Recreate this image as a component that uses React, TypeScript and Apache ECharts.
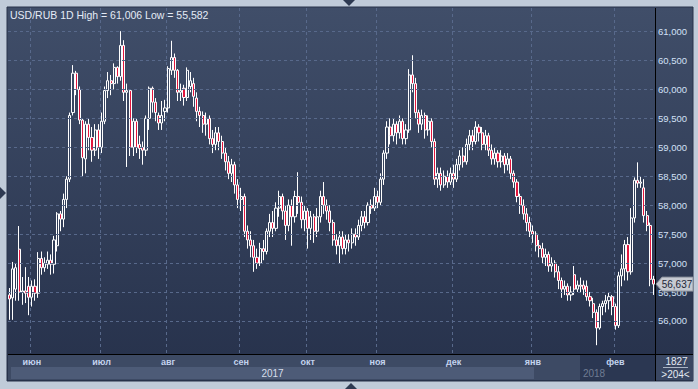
import React, { useEffect, useRef } from 'react';
import * as echarts from 'echarts';

const monthLabels = ['июн', 'июл', 'авг', 'сен', 'окт', 'ноя', 'дек', 'янв', 'фев'];
const monthStarts = [7, 29, 50, 73, 94, 116, 140, 165, 191];
const yearLabels = ['2017', '2018'];
const priceTicks = [56.0, 56.5, 57.0, 57.5, 58.0, 58.5, 59.0, 59.5, 60.0, 60.5, 61.0];
const totalBars = 1827;
const lastPrice = 56.637;
const highValue = 61.006;
const lowValue = 55.582;
const yMin = 55.43;
const yMax = 61.406;

// [open, close, low, high]
const candles: number[][] = [
  [56.45, 56.38, 56.02, 56.57],
  [56.40, 56.90, 56.02, 57.02],
  [56.55, 56.92, 56.35, 57.00],
  [57.24, 56.50, 56.35, 57.64],
  [56.50, 56.52, 56.28, 56.76],
  [56.52, 56.48, 56.31, 56.93],
  [56.60, 56.41, 56.10, 56.76],
  [56.41, 56.60, 56.25, 56.70],
  [56.60, 56.48, 56.35, 56.72],
  [56.48, 57.08, 56.40, 57.19],
  [57.08, 56.92, 56.80, 57.20],
  [56.92, 57.00, 56.85, 57.10],
  [56.98, 57.05, 56.90, 57.20],
  [57.05, 56.98, 56.80, 57.15],
  [56.98, 57.40, 56.82, 57.47],
  [57.30, 57.85, 57.20, 57.88],
  [57.85, 57.76, 57.55, 57.90],
  [57.76, 58.10, 57.62, 58.20],
  [58.10, 58.45, 57.95, 58.50],
  [58.45, 59.55, 58.40, 59.60],
  [59.60, 60.28, 59.55, 60.42],
  [60.28, 60.00, 59.90, 60.32],
  [60.00, 59.47, 59.40, 60.05],
  [59.47, 58.82, 58.50, 59.50],
  [58.80, 59.40, 58.55, 59.45],
  [59.40, 59.17, 58.95, 59.50],
  [59.17, 58.95, 58.75, 59.35],
  [58.95, 59.30, 58.85, 59.40],
  [59.30, 59.00, 58.80, 59.40],
  [59.00, 59.45, 58.90, 59.60],
  [59.45, 59.98, 59.40, 60.05],
  [59.98, 60.15, 59.85, 60.30],
  [60.15, 60.10, 59.90, 60.25],
  [60.10, 60.38, 60.00, 60.45],
  [60.38, 60.22, 60.10, 60.40],
  [60.22, 60.76, 60.15, 61.006],
  [60.76, 59.95, 59.80, 60.85],
  [59.95, 59.98, 58.66, 60.10],
  [59.98, 59.00, 58.85, 60.00],
  [59.00, 59.45, 58.85, 59.50],
  [59.45, 59.00, 58.90, 59.50],
  [59.05, 58.98, 58.80, 59.20],
  [59.00, 58.95, 58.70, 59.10],
  [58.95, 59.50, 58.85, 59.55],
  [59.50, 60.02, 59.30, 60.05],
  [60.02, 59.78, 59.60, 60.05],
  [59.78, 59.60, 59.45, 59.85],
  [59.55, 59.42, 59.30, 59.60],
  [59.42, 59.55, 59.30, 59.80],
  [59.62, 59.68, 59.45, 59.82],
  [59.68, 60.36, 59.60, 60.40],
  [60.33, 60.55, 60.25, 60.84],
  [60.55, 60.33, 60.20, 60.62],
  [60.33, 59.95, 59.80, 60.35],
  [59.95, 59.98, 59.80, 60.10],
  [60.02, 59.86, 59.72, 60.08],
  [59.86, 60.33, 59.80, 60.38],
  [60.05, 60.15, 59.95, 60.30],
  [60.10, 59.88, 59.70, 60.20],
  [59.85, 59.62, 59.45, 59.95],
  [59.62, 59.55, 59.35, 59.70],
  [59.55, 59.40, 59.25, 59.62],
  [59.40, 59.50, 59.20, 59.60],
  [59.50, 59.15, 59.05, 59.55],
  [59.15, 59.05, 58.90, 59.30],
  [59.05, 59.25, 58.95, 59.35],
  [59.25, 59.10, 58.95, 59.35],
  [59.10, 58.90, 58.80, 59.20],
  [58.90, 58.75, 58.60, 59.00],
  [58.75, 58.55, 58.45, 58.85],
  [58.55, 58.70, 58.40, 58.80],
  [58.70, 58.35, 58.20, 58.75],
  [58.35, 58.10, 57.95, 58.45],
  [58.10, 58.15, 57.90, 58.30],
  [58.15, 57.55, 57.45, 58.20],
  [57.55, 57.40, 57.25, 57.65],
  [57.40, 57.30, 57.10, 57.55],
  [57.30, 57.10, 56.85, 57.40],
  [57.10, 57.00, 56.90, 57.25],
  [57.00, 57.25, 56.95, 57.35],
  [57.25, 57.20, 57.05, 57.40],
  [57.20, 57.55, 57.15, 57.60],
  [57.55, 57.70, 57.45, 57.85],
  [57.70, 57.60, 57.45, 57.90],
  [57.60, 57.95, 57.55, 58.05],
  [57.95, 58.15, 57.80, 58.25],
  [58.15, 57.90, 57.75, 58.20],
  [57.90, 57.65, 57.40, 58.00],
  [57.65, 58.00, 57.55, 58.10],
  [58.00, 57.80, 57.30, 58.10],
  [57.80, 58.15, 57.70, 58.25],
  [58.15, 58.05, 57.85, 58.57],
  [58.05, 57.75, 57.60, 58.15],
  [57.75, 57.90, 57.55, 58.00],
  [57.90, 57.60, 57.25, 57.95],
  [57.60, 57.80, 57.40, 57.90],
  [57.80, 57.55, 57.35, 57.85],
  [57.55, 57.80, 57.45, 57.95],
  [57.80, 58.15, 57.70, 58.25],
  [58.15, 58.00, 57.85, 58.40],
  [58.00, 57.90, 57.75, 58.10],
  [57.90, 57.70, 57.55, 58.00],
  [57.70, 57.40, 57.30, 57.75],
  [57.40, 57.30, 57.15, 57.50],
  [57.30, 57.45, 57.00, 57.55],
  [57.45, 57.25, 57.15, 57.55],
  [57.25, 57.40, 57.15, 57.50],
  [57.40, 57.35, 57.20, 57.50],
  [57.35, 57.50, 57.25, 57.60],
  [57.50, 57.45, 57.30, 57.60],
  [57.45, 57.65, 57.40, 57.75],
  [57.65, 57.80, 57.55, 57.90],
  [57.80, 57.70, 57.60, 57.90],
  [57.70, 58.00, 57.65, 58.05],
  [58.00, 57.95, 57.85, 58.10],
  [57.95, 58.15, 57.90, 58.30],
  [58.15, 58.05, 57.95, 58.25],
  [58.05, 58.45, 58.00, 58.55],
  [58.45, 58.90, 58.35, 58.95],
  [58.90, 59.35, 58.80, 59.45],
  [59.35, 59.20, 59.05, 59.50],
  [59.20, 59.40, 59.10, 59.50],
  [59.40, 59.25, 59.05, 59.45],
  [59.25, 59.45, 59.15, 59.55],
  [59.45, 59.15, 59.05, 59.50],
  [59.15, 59.30, 59.05, 59.40],
  [59.30, 60.25, 59.25, 60.35],
  [60.25, 60.10, 59.95, 60.59],
  [60.10, 59.60, 59.50, 60.20],
  [59.60, 59.40, 59.25, 59.65],
  [59.40, 59.55, 59.30, 59.65],
  [59.55, 59.30, 59.15, 59.60],
  [59.30, 59.45, 59.20, 59.55],
  [59.45, 59.10, 59.00, 59.50],
  [59.10, 58.45, 58.35, 59.15],
  [58.45, 58.55, 58.30, 58.65],
  [58.55, 58.35, 58.25, 58.65],
  [58.35, 58.50, 58.30, 58.60],
  [58.50, 58.40, 58.30, 58.60],
  [58.40, 58.55, 58.35, 58.65],
  [58.55, 58.45, 58.30, 58.70],
  [58.45, 58.70, 58.40, 58.80],
  [58.70, 58.85, 58.60, 58.95],
  [58.85, 58.75, 58.65, 59.00],
  [58.75, 59.05, 58.70, 59.15],
  [59.05, 59.20, 58.95, 59.30],
  [59.20, 59.10, 58.95, 59.30],
  [59.10, 59.35, 59.05, 59.45],
  [59.35, 59.25, 59.10, 59.40],
  [59.25, 59.05, 58.95, 59.35],
  [59.05, 59.20, 58.95, 59.30],
  [59.20, 58.95, 58.85, 59.25],
  [58.95, 58.80, 58.70, 59.05],
  [58.80, 58.90, 58.70, 59.00],
  [58.90, 58.75, 58.65, 58.95],
  [58.75, 58.85, 58.65, 58.95],
  [58.85, 58.70, 58.55, 58.90],
  [58.70, 58.80, 58.60, 58.90],
  [58.80, 58.55, 58.45, 58.85],
  [58.55, 58.40, 58.30, 58.60],
  [58.40, 58.15, 58.05, 58.45],
  [58.15, 58.00, 57.85, 58.20],
  [58.00, 57.85, 57.75, 58.10],
  [57.85, 57.70, 57.55, 57.95],
  [57.70, 57.55, 57.45, 57.80],
  [57.55, 57.50, 57.35, 57.65],
  [57.50, 57.30, 57.20, 57.55],
  [57.30, 57.25, 57.10, 57.40],
  [57.25, 57.10, 57.00, 57.35],
  [57.10, 57.15, 56.95, 57.25],
  [57.15, 56.95, 56.85, 57.20],
  [56.95, 57.00, 56.85, 57.10],
  [57.00, 56.85, 56.75, 57.05],
  [56.85, 56.70, 56.55, 56.95],
  [56.70, 56.55, 56.40, 56.75],
  [56.55, 56.60, 56.45, 56.70],
  [56.60, 56.45, 56.35, 56.65],
  [56.45, 56.50, 56.35, 56.60],
  [56.80, 56.55, 56.45, 56.95],
  [56.55, 56.62, 56.50, 56.70],
  [56.62, 56.60, 56.50, 56.75],
  [56.62, 56.55, 56.45, 56.70],
  [56.60, 56.42, 56.35, 56.70],
  [56.42, 56.35, 56.25, 56.50],
  [56.30, 56.15, 56.05, 56.40],
  [56.15, 55.88, 55.582, 56.20],
  [55.88, 56.25, 55.85, 56.30],
  [56.25, 56.30, 56.10, 56.35],
  [56.30, 56.35, 56.15, 56.45],
  [56.35, 56.42, 56.20, 56.50],
  [56.42, 56.25, 56.10, 56.45],
  [56.25, 55.92, 55.85, 56.30],
  [55.92, 56.78, 55.88, 56.85],
  [56.78, 56.90, 56.60, 57.15],
  [56.90, 57.32, 56.70, 57.40],
  [57.32, 56.85, 56.70, 57.45],
  [56.85, 57.78, 56.80, 57.95],
  [57.78, 58.43, 57.70, 58.48],
  [58.43, 58.38, 58.30, 58.74],
  [58.38, 58.40, 58.30, 58.50],
  [58.30, 57.82, 57.70, 58.45],
  [57.82, 57.65, 57.55, 57.90],
  [57.65, 56.72, 56.60, 57.70],
  [56.72, 56.637, 56.45, 56.78],
];

const fmt = (v: number) => v.toFixed(3).replace('.', ',');
const FONT = '"Liberation Sans", Arial, sans-serif';
const GRID_COLOR = '#58698b';

function txt(id: string, text: string, x: number, y: number, fill: string, size: number, align = 'left', weight = 'normal') {
  return {
    type: 'text', id, z: 60, silent: true,
    style: {
      text, x, y, fill,
      font: `${weight} ${size}px ${FONT}`,
      align, verticalAlign: 'middle',
      textAlign: align, textVerticalAlign: 'middle',
    },
  };
}

export default function App() {
  const ref = useRef<HTMLDivElement>(null);
  useEffect(() => {
    const chart = echarts.init(ref.current!, null, { renderer: 'svg' });
    const categories = candles.map((_, i) => 'd' + i);
    const labelAt = new Map<number, string>(monthStarts.map((s, k) => [s, monthLabels[k]]));
    const darkFromIndex = 180;
    const firstTick = priceTicks[0];

    const baseGraphic: any[] = [
      {
        type: 'rect', id: 'frame', z: -10, silent: true,
        shape: { x: 7, y: 7, width: 686, height: 374 },
        style: {
          fill: new echarts.graphic.LinearGradient(0, 0, 0, 1, [
            { offset: 0, color: '#404e69' },
            { offset: 1, color: '#26314b' },
          ]),
          stroke: '#28324a', lineWidth: 1,
        },
      },
      { type: 'rect', id: 'monthRow', z: -9, silent: true, shape: { x: 8, y: 355, width: 647, height: 25 }, style: { fill: '#3d4a64' } },
      { type: 'rect', id: 'yearRow', z: -8, silent: true, shape: { x: 11, y: 367, width: 523, height: 12 }, style: { fill: '#4d5b77' } },
      { type: 'rect', id: 'darkRegion', z: -8, silent: true, shape: { x: 580, y: 355, width: 75, height: 25 }, style: { fill: '#2b3752' } },
      { type: 'rect', id: 'rightBottom', z: -8, silent: true, shape: { x: 656, y: 355, width: 37, height: 25 }, style: { fill: '#3a4762' } },
      { type: 'line', id: 'hLine', z: 55, silent: true, shape: { x1: 8, y1: 354.5, x2: 693, y2: 354.5 }, style: { stroke: '#000000', lineWidth: 1 } },
      { type: 'line', id: 'vLine', z: 55, silent: true, shape: { x1: 655.5, y1: 8, x2: 655.5, y2: 381 }, style: { stroke: '#000000', lineWidth: 1 } },
      { type: 'line', id: 'sep', z: 55, silent: true, shape: { x1: 663, y1: 367.5, x2: 688, y2: 367.5 }, style: { stroke: '#aab4c4', lineWidth: 1 } },
      txt('y2017', yearLabels[0], 272.5, 373.5, '#d6deea', 10, 'center'),
      txt('y2018', yearLabels[1], 594, 373.5, '#6f7c93', 10, 'center'),
      txt('total', String(totalBars), 676.5, 361.5, '#e3e9f2', 10, 'center'),
      txt('visible', '>' + candles.length + '<', 675.5, 374, '#e3e9f2', 10, 'center'),
      txt('title', `USD/RUB 1D High = ${fmt(highValue)} Low = ${fmt(lowValue)}`, 10, 15, '#e4ebf6', 10.5, 'left'),
      { type: 'polygon', id: 'triTop', z: 60, silent: true, shape: { points: [[343, 0], [355, 0], [349, 6]] }, style: { fill: '#2e3a52' } },
      { type: 'polygon', id: 'triLeft', z: 60, silent: true, shape: { points: [[0, 187], [0, 199], [6, 193]] }, style: { fill: '#2e3a52' } },
      { type: 'polygon', id: 'triBottom', z: 60, silent: true, shape: { points: [[345, 389], [357, 389], [351, 383]] }, style: { fill: '#2e3a52' } },
    ];

    const option: any = {
      animation: false,
      backgroundColor: '#c0cbd9',
      grid: { left: 8, right: 43, top: 8, bottom: 35, containLabel: false },
      xAxis: {
        type: 'category',
        data: categories,
        boundaryGap: true,
        axisLine: { show: false },
        axisTick: { show: false },
        axisLabel: {
          interval: (i: number) => labelAt.has(i),
          formatter: (_v: string, i: number) => labelAt.get(i) || '',
          color: (_v: string, i: number) => (i >= darkFromIndex ? '#7f8ca3' : '#c3d3ee'),
          fontSize: 9,
          fontWeight: 'bold',
          fontFamily: FONT,
          margin: 3,
        },
        splitLine: {
          show: true,
          interval: (i: number) => labelAt.has(i),
          lineStyle: { color: GRID_COLOR, type: [3, 3], width: 1 },
        },
      },
      yAxis: {
        type: 'value',
        position: 'right',
        min: yMin,
        max: yMax,
        scale: true,
        splitNumber: 12,
        minInterval: 0.5,
        maxInterval: 0.5,
        axisLine: { show: false },
        axisTick: { show: false },
        axisLabel: {
          formatter: (v: number) =>
            v >= firstTick - 1e-6 && Math.abs(v * 2 - Math.round(v * 2)) < 1e-6 ? fmt(v) : '',
          color: '#d2e0f6',
          fontSize: 9.5,
          fontFamily: FONT,
          margin: 3,
        },
        splitLine: { show: false },
      },
      series: [
        {
          type: 'line',
          data: [],
          z: 1,
          silent: true,
          markLine: {
            silent: true,
            symbol: ['none', 'none'],
            label: { show: false },
            lineStyle: { color: GRID_COLOR, type: [3, 3], width: 1 },
            data: priceTicks.map((v) => ({ yAxis: v })),
          },
        },
        {
          type: 'candlestick',
          data: candles,
          z: 2,
          barWidth: 2.6,
          itemStyle: {
            color: 'rgba(0,0,0,0)',
            color0: '#e3163d',
            borderColor: '#ffffff',
            borderColor0: '#ffffff',
            borderWidth: 1,
          },
        },
      ],
      graphic: baseGraphic,
    };
    chart.setOption(option);

    const py = chart.convertToPixel({ yAxisIndex: 0 }, lastPrice) as number;
    const tag: any[] = [
      {
        type: 'polygon', id: 'tagBox', z: 70, silent: true,
        shape: { points: [[656, py], [662, py - 7], [693, py - 7], [693, py + 7], [662, py + 7]] },
        style: { fill: '#c6cad2', stroke: '#8a909c', lineWidth: 1 },
      },
      { ...txt('tagText', fmt(lastPrice), 677, py, '#1e2636', 10, 'center'), z: 71 },
    ];
    chart.setOption({ graphic: [...baseGraphic, ...tag] });

    return () => chart.dispose();
  }, []);
  return <div ref={ref} style={{ position: 'fixed', left: 0, top: 0, width: 698, height: 389 }} />;
}
